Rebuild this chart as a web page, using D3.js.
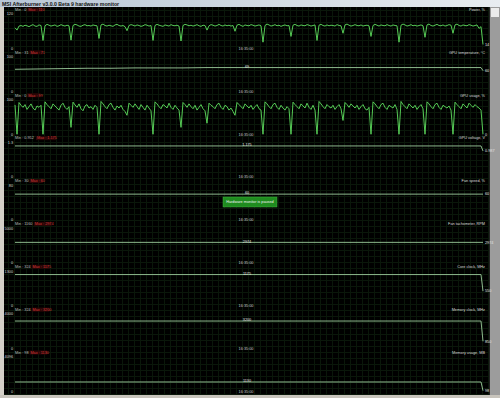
<!DOCTYPE html>
<html>
<head>
<meta charset="utf-8">
<script src="https://cdn.jsdelivr.net/npm/d3@7"></script>
<style>
  body { margin: 0; background: #000; }
  svg { display: block; }
  text { font-family: "Liberation Sans", Arial, sans-serif; }
</style>
</head>
<body>
<div id="mon"></div>
<script>
// setup
var w = 500;
var h = 398;

// one row per graph
var names = ["Power, %", "GPU temperature, °C", "GPU usage, %", "GPU voltage, V", "Fan speed, %",
             "Fan tachometer, RPM", "Core clock, MHz", "Memory clock, MHz", "Memory usage, MB"];
var topLabels = ["120", "100", "100", "1.3", "80", "5000", "1300", "4000", "4096"];
var topValues = [120, 100, 100, 1.3, 80, 5000, 1300, 4000, 4096];
var minText = ["0", "31", "0", "0.952", "30", "1160", "324", "324", "98"];
var maxText = ["110", "71", "99", "1.175", "60", "2974", "1175", "3200", "1130"];
var decimals = [0, 0, 0, 3, 0, 0, 0, 0, 0];
var showMid = [false, true, false, true, true, true, true, true, true];
var timeLabel = "16:35:00";
var pausedText = "Hardware monitor is paused";
var cursorSample = 116;

// busy series, one value per sample
var power = [72, 64, 78, 80, 77, 81, 79, 76, 80, 83, 78, 77, 82, 80, 28, 79, 84, 81, 78, 80,
             82, 77, 79, 83, 80, 78, 81, 79, 29, 80, 84, 82, 78, 77, 81, 83, 79, 80, 78, 82,
             80, 79, 35, 82, 85, 80, 78, 81, 79, 77, 82, 84, 80, 78, 80, 76, 62, 80, 83, 81,
             78, 82, 80, 77, 79, 83, 81, 78, 80, 28, 80, 84, 81, 79, 77, 82, 80, 78, 83, 80,
             79, 81, 78, 26, 80, 84, 82, 79, 81, 78, 80, 83, 79, 77, 81, 80, 64, 79, 83, 81,
             78, 80, 84, 80, 78, 82, 79, 81, 78, 80, 60, 81, 84, 80, 77, 82, 80, 79, 83, 81,
             78, 80, 82, 79, 22, 80, 85, 82, 78, 80, 83, 79, 81, 77, 80, 82, 79, 80, 42, 81,
             84, 80, 78, 82, 80, 79, 83, 81, 78, 80, 82, 28, 81, 84, 80, 78, 82, 79, 81, 80,
             78, 83, 80, 79, 53, 82, 85, 81, 78, 80, 83, 80, 79, 82, 78, 80, 81, 79, 42, 80,
             84, 81, 78, 82, 80, 79, 83, 80, 78, 82, 80, 79, 22, 81, 85, 82, 78, 80, 83, 79,
             81, 78, 80, 82, 79, 39, 82, 85, 80, 78, 81, 84, 80, 79, 82, 78, 80, 83, 81, 53,
             82, 85, 80, 78, 82, 80, 79, 83, 81, 78, 80, 82, 70, 76, 14];
var usage = [85, 0, 92, 84, 78, 86, 72, 80, 88, 76, 70, 82, 78, 84, 0, 94, 86, 80, 74, 88,
             82, 76, 70, 84, 90, 78, 72, 80, 20, 93, 85, 78, 88, 74, 68, 82, 86, 76, 80, 72,
             84, 78, 0, 95, 88, 80, 74, 86, 90, 78, 70, 82, 76, 84, 72, 66, 55, 90, 84, 78,
             88, 80, 72, 86, 78, 70, 84, 76, 68, 0, 94, 88, 80, 74, 86, 82, 76, 90, 78, 72,
             84, 76, 70, 20, 92, 86, 78, 88, 80, 74, 84, 70, 78, 86, 74, 68, 32, 90, 84, 80,
             74, 86, 90, 78, 72, 84, 80, 70, 76, 66, 55, 92, 86, 80, 74, 88, 82, 76, 84, 72,
             80, 86, 74, 70, 0, 94, 88, 80, 74, 86, 90, 78, 72, 84, 76, 70, 80, 74, 0, 93,
             86, 80, 74, 88, 82, 76, 90, 78, 72, 84, 70, 0, 95, 88, 80, 74, 86, 80, 76, 84,
             72, 80, 86, 74, 40, 92, 86, 78, 88, 82, 76, 84, 72, 80, 86, 74, 70, 78, 0, 94,
             88, 80, 74, 86, 90, 78, 72, 84, 80, 76, 86, 72, 0, 95, 86, 80, 74, 88, 82, 76,
             84, 72, 80, 86, 74, 0, 94, 88, 80, 74, 86, 90, 78, 72, 84, 80, 76, 82, 70, 0,
             93, 86, 80, 74, 88, 82, 76, 90, 84, 78, 86, 80, 76, 70, 0];

// steady series, sampled less often
var flatIdx = [0, 12, 24, 36, 48, 60, 72, 84, 96, 108, 120, 132, 144, 156, 168, 180, 192, 204, 216, 228, 233, 234];
var temp    = [64, 65, 66, 67, 67, 68, 68, 68, 69, 69, 69, 69, 69, 69, 69, 69, 69, 69, 69, 69, 69, 60];
var voltage = [1.175, 1.175, 1.175, 1.175, 1.175, 1.175, 1.175, 1.175, 1.175, 1.175, 1.175,
               1.175, 1.175, 1.175, 1.175, 1.175, 1.175, 1.175, 1.175, 1.175, 1.175, 0.987];
var fan     = [60, 60, 60, 60, 60, 60, 60, 60, 60, 60, 60, 60, 60, 60, 60, 60, 60, 60, 60, 60, 60, 60];
var tach    = [2974, 2974, 2974, 2974, 2974, 2974, 2974, 2974, 2974, 2974, 2974,
               2974, 2974, 2974, 2974, 2974, 2974, 2974, 2974, 2974, 2974, 2974];
var core    = [1175, 1175, 1175, 1175, 1175, 1175, 1175, 1175, 1175, 1175, 1175,
               1175, 1175, 1175, 1175, 1175, 1175, 1175, 1175, 1175, 1175, 550];
var memClk  = [3200, 3200, 3200, 3200, 3200, 3200, 3200, 3200, 3200, 3200, 3200,
               3200, 3200, 3200, 3200, 3200, 3200, 3200, 3200, 3200, 3200, 850];
var memUse  = [1130, 1130, 1130, 1130, 1130, 1130, 1130, 1130, 1130, 1130, 1130,
               1130, 1130, 1130, 1130, 1130, 1130, 1130, 1130, 1130, 1130, 98];

var allIdx = d3.range(power.length);
var series = [
    {idx: allIdx, vals: power, busy: true},
    {idx: flatIdx, vals: temp},
    {idx: allIdx, vals: usage, busy: true},
    {idx: flatIdx, vals: voltage},
    {idx: flatIdx, vals: fan},
    {idx: flatIdx, vals: tach},
    {idx: flatIdx, vals: core},
    {idx: flatIdx, vals: memClk},
    {idx: flatIdx, vals: memUse}
];

var svg = d3.select("#mon")
            .append("svg")
            .attr("width", w)
            .attr("height", h)
            .style("background", "#000");

// window frame
svg.append("rect").attr("x", 0).attr("y", 0).attr("width", 4).attr("height", h).attr("fill", "#d4d0c8");
svg.append("rect").attr("x", 0).attr("y", 395).attr("width", w).attr("height", 3).attr("fill", "#c8c4bc");
var grad = svg.append("defs").append("linearGradient").attr("id", "tb").attr("x1", 0).attr("x2", 1);
grad.append("stop").attr("offset", "0%").attr("stop-color", "#b8c6d6");
grad.append("stop").attr("offset", "100%").attr("stop-color", "#e8ecf0");
svg.append("rect").attr("x", 0).attr("y", 0).attr("width", w).attr("height", 7).attr("fill", "url(#tb)");
svg.append("text").attr("x", 2).attr("y", 5.6)
    .attr("font-size", 5.2).attr("font-weight", "bold").attr("fill", "#111")
    .text("MSI Afterburner v3.0.0 Beta 9 hardware monitor");

// scrollbar
svg.append("rect").attr("x", 489).attr("y", 7).attr("width", 11).attr("height", 388).attr("fill", "#9c9c9c");
svg.append("rect").attr("x", 489).attr("y", 7).attr("width", 1).attr("height", 388).attr("fill", "#222");
svg.append("rect").attr("x", 491).attr("y", 8).attr("width", 8).attr("height", 9).attr("fill", "#ececec");

// grid
var grid = svg.append("g").attr("stroke", "#0a170a").attr("stroke-width", 1);
grid.selectAll("line.v").data(d3.range(8.5, 489, 6)).enter().append("line")
    .attr("x1", d => d).attr("x2", d => d).attr("y1", 7).attr("y2", 395);
grid.selectAll("line.h").data(d3.range(10.5, 395, 6)).enter().append("line")
    .attr("x1", 4).attr("x2", 489).attr("y1", d => d).attr("y2", d => d);

var x = d3.scaleLinear().domain([0, power.length - 1]).range([15, 483]);
var pitch = 42.875;
var plotH = 34.5;

series.forEach(function(s, i) {
    var top = 14 + pitch * i;
    var y = d3.scaleLinear().domain([0, topValues[i]]).range([top + plotH, top]);
    var g = svg.append("g");
    var fmt = d3.format("." + decimals[i] + "f");

    // header: min / max
    g.append("text").attr("x", 15).attr("y", top - 4.5).attr("dy", "0.35em")
        .attr("font-size", 3.8).attr("fill", "#bdbdbd")
        .text("Min :  " + minText[i]);
    var mx = 15 + 7 + minText[i].length * 2.2 + 4;
    g.append("rect").attr("x", mx - 1).attr("y", top - 6.5).attr("width", 9 + maxText[i].length * 2.2).attr("height", 4)
        .attr("fill", "#2a0606");
    g.append("text").attr("x", mx).attr("y", top - 4.5).attr("dy", "0.35em")
        .attr("font-size", 3.8).attr("fill", "#d23a3a")
        .text("Max :  " + maxText[i]);
    g.append("text").attr("x", 485).attr("y", top - 4.5).attr("dy", "0.35em")
        .attr("font-size", 3.8).attr("fill", "#d8d8d8").attr("text-anchor", "end")
        .text(names[i]);

    // axis ends
    g.append("text").attr("x", 13).attr("y", y(topValues[i])).attr("dy", "0.35em")
        .attr("font-size", 3.8).attr("fill", "#d0d0d0").attr("text-anchor", "end")
        .text(topLabels[i]);
    g.append("text").attr("x", 13).attr("y", y(0)).attr("dy", "0.35em")
        .attr("font-size", 3.8).attr("fill", "#d0d0d0").attr("text-anchor", "end")
        .text("0");
    g.append("text").attr("x", 246).attr("y", y(0)).attr("dy", "0.35em")
        .attr("font-size", 3.8).attr("fill", "#c8c8c8").attr("text-anchor", "middle")
        .text(timeLabel);

    // the line
    var pts = s.idx.map((t, k) => [t, s.vals[k]]);
    var line = d3.line().x(d => x(d[0])).y(d => y(d[1]));
    g.append("path").datum(pts)
        .attr("d", line)
        .attr("fill", "none")
        .attr("stroke", s.busy ? "#5fe05f" : "#9ccc9c")
        .attr("stroke-width", s.busy ? 0.9 : 0.9)
        .attr("stroke-linejoin", "round");

    // value at the end
    var last = pts[pts.length - 1];
    g.append("text").attr("x", 485).attr("y", y(last[1])).attr("dy", "0.35em")
        .attr("font-size", 3.8).attr("fill", "#e0e0e0")
        .text(fmt(last[1]));

    // value under the cursor
    if (showMid[i]) {
        var near = pts.reduce((a, b) => Math.abs(b[0] - cursorSample) < Math.abs(a[0] - cursorSample) ? b : a);
        g.append("text").attr("x", 247).attr("y", y(near[1]) - 1).attr("dy", "0.35em")
            .attr("font-size", 3.8).attr("fill", "#e0e0e0").attr("text-anchor", "middle")
            .text(fmt(near[1]));
    }
});

// paused notice
var pz = svg.append("g");
pz.append("rect").attr("x", 223).attr("y", 197).attr("width", 54).attr("height", 10)
    .attr("fill", "#1f8c1f").attr("stroke", "#3fb43f").attr("stroke-width", 0.5);
pz.append("text").attr("x", 250).attr("y", 202).attr("dy", "0.35em")
    .attr("font-size", 3.8).attr("fill", "#f0f0f0").attr("text-anchor", "middle")
    .text(pausedText);
</script>
</body>
</html>
